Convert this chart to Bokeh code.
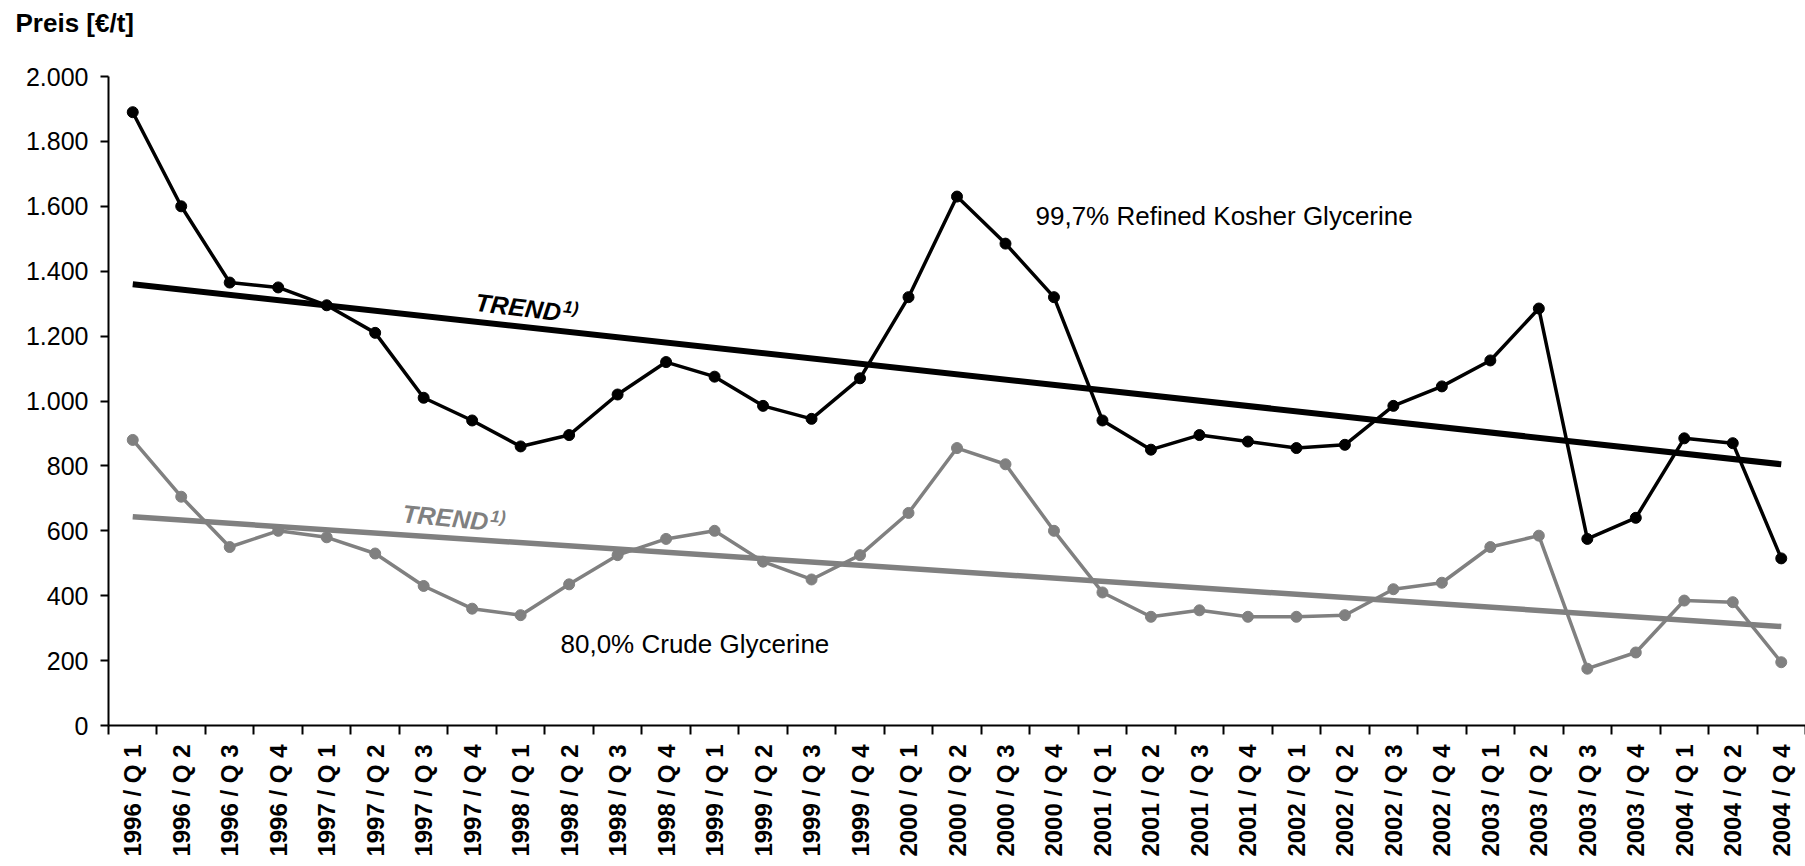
import math
from bokeh.plotting import figure
from bokeh.models import Range1d, FixedTicker, Label
from bokeh.embed import file_html
from bokeh.resources import INLINE

# ---------------- data ----------------
quarters = [
    "1996 / Q 1", "1996 / Q 2", "1996 / Q 3", "1996 / Q 4",
    "1997 / Q 1", "1997 / Q 2", "1997 / Q 3", "1997 / Q 4",
    "1998 / Q 1", "1998 / Q 2", "1998 / Q 3", "1998 / Q 4",
    "1999 / Q 1", "1999 / Q 2", "1999 / Q 3", "1999 / Q 4",
    "2000 / Q 1", "2000 / Q 2", "2000 / Q 3", "2000 / Q 4",
    "2001 / Q 1", "2001 / Q 2", "2001 / Q 3", "2001 / Q 4",
    "2002 / Q 1", "2002 / Q 2", "2002 / Q 3", "2002 / Q 4",
    "2003 / Q 1", "2003 / Q 2", "2003 / Q 3", "2003 / Q 4",
    "2004 / Q 1", "2004 / Q 2", "2004 / Q 4",
]
refined = [1890, 1600, 1365, 1350, 1295, 1210, 1010, 940, 860, 895, 1020, 1120,
           1075, 985, 945, 1070, 1320, 1630, 1485, 1320, 940, 850, 895, 875,
           855, 865, 985, 1045, 1125, 1285, 575, 640, 885, 870, 515]
crude = [880, 705, 550, 600, 580, 530, 430, 360, 340, 435, 525, 575,
         600, 505, 450, 525, 655, 855, 805, 600, 410, 335, 355, 335,
         335, 340, 420, 440, 550, 585, 175, 225, 385, 380, 195]
trend_refined = [1360, 805]   # trend value at first and last quarter
trend_crude = [643, 305]
y_ticks = [0, 200, 400, 600, 800, 1000, 1200, 1400, 1600, 1800, 2000]
y_tick_labels = ["0", "200", "400", "600", "800", "1.000", "1.200", "1.400",
                 "1.600", "1.800", "2.000"]

# ---------------- layout ----------------
W, H = 1805, 866
LEFT, RIGHT, TOP, BOTTOM = 108, 0, 77, 141
FONT = "Liberation Sans"
BLACK = "#000000"
GREY = "#808080"

n = len(quarters)
xs = [2 * i + 1 for i in range(n)]          # category centres
edges = [2 * i for i in range(n + 1)]       # category boundaries

p = figure(width=W, height=H, output_backend="svg", toolbar_location=None,
           x_range=Range1d(0, 2 * n), y_range=Range1d(0, 2000),
           min_border_left=LEFT, min_border_right=RIGHT,
           min_border_top=0, min_border_bottom=BOTTOM)
p.grid.visible = False
p.outline_line_color = None
p.background_fill_color = "white"
p.border_fill_color = "white"

# title (y axis unit) in the top-left corner; the empty second line
# reserves the space between the title and the plot frame
p.title.text = "Preis [€/t]\n"
p.title.align = "left"
p.title.vertical_align = "top"
p.title.offset = 15 - LEFT
p.title.standoff = 14
p.title.text_line_height = 1.0
p.title.text_font = FONT
p.title.text_font_size = "26px"
p.title.text_font_style = "bold"
p.title.text_color = BLACK

# x axis: labels at centres, tick marks at boundaries
xa = p.xaxis[0]
xa.ticker = FixedTicker(ticks=xs, minor_ticks=edges)
xa.major_label_overrides = {x: q for x, q in zip(xs, quarters)}
xa.major_label_orientation = math.pi / 2
xa.major_label_text_font = FONT
xa.major_label_text_font_style = "bold"
xa.major_label_text_font_size = "24px"
xa.major_label_text_color = BLACK
xa.major_label_standoff = 10
xa.major_tick_out = 0
xa.major_tick_in = 0
xa.minor_tick_out = 9
xa.minor_tick_in = 0
xa.minor_tick_line_color = BLACK
xa.minor_tick_line_width = 2
xa.axis_line_color = BLACK
xa.axis_line_width = 2

ya = p.yaxis[0]
ya.ticker = FixedTicker(ticks=y_ticks)
ya.major_label_overrides = {t: l for t, l in zip(y_ticks, y_tick_labels)}
ya.major_label_text_font = FONT
ya.major_label_text_font_size = "25px"
ya.major_label_text_color = BLACK
ya.major_label_standoff = 12
ya.major_tick_out = 8
ya.major_tick_in = 0
ya.major_tick_line_color = BLACK
ya.major_tick_line_width = 2
ya.minor_tick_line_color = None
ya.axis_line_color = BLACK
ya.axis_line_width = 2

# ---------------- marks ----------------
p.line([xs[0], xs[-1]], trend_crude, line_color=GREY, line_width=5.5)
p.line(xs, crude, line_color=GREY, line_width=3.5)
p.scatter(xs, crude, size=11, fill_color=GREY, line_color=GREY)

p.line([xs[0], xs[-1]], trend_refined, line_color=BLACK, line_width=6)
p.line(xs, refined, line_color=BLACK, line_width=3.5)
p.scatter(xs, refined, size=11, fill_color=BLACK, line_color=BLACK)

# ---------------- texts (positions given in canvas pixels) ----------------
fw = (W - LEFT - RIGHT) / (2 * n)
fh = (H - TOP - BOTTOM) / 2000.0


def dx(px):
    return (px - LEFT) / fw


def dy(py):
    return (H - BOTTOM - py) / fh


def add_text(px, py, text, size, color=BLACK, style="normal", angle=0):
    p.add_layout(Label(x=dx(px), y=dy(py), text=text, text_font=FONT,
                       text_font_size=size, text_font_style=style,
                       text_color=color, text_align="left",
                       text_baseline="alphabetic", angle=angle,
                       angle_units="deg"))


add_text(1035, 216, "99,7% Refined Kosher Glycerine", "26px")
add_text(560, 644, "80,0% Crude Glycerine", "26px")
add_text(475, 302, "TREND", "25px", style="bold italic", angle=-7)
add_text(563, 307, "1)", "17px", style="bold italic", angle=-7)
add_text(402, 513, "TREND", "25px", color=GREY, style="bold italic", angle=-5.5)
add_text(490, 516, "1)", "17px", color=GREY, style="bold italic", angle=-5.5)

open("out.html", "w").write(file_html(p, INLINE))
